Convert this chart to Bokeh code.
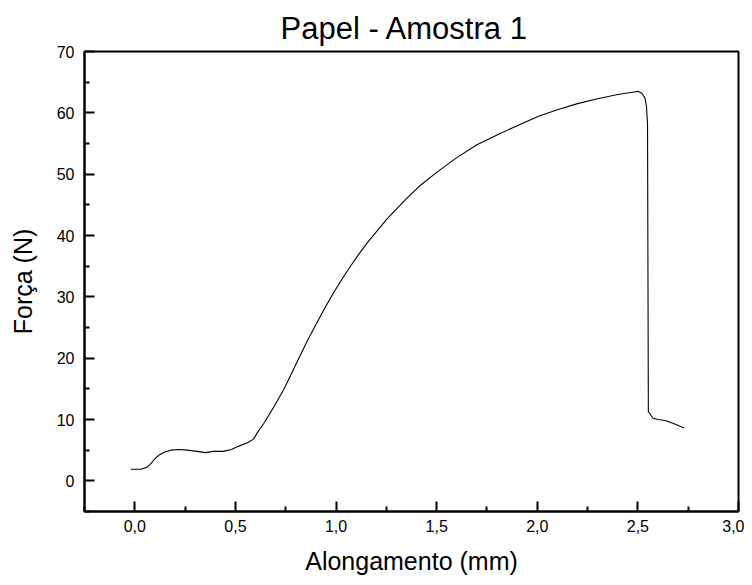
from bokeh.plotting import figure
from bokeh.models import FixedTicker, CustomJSTickFormatter, Range1d
from bokeh.embed import file_html
from bokeh.resources import INLINE

# Data (Alongamento in mm, Força in N)
alongamento = [-0.02, 0.03, 0.06, 0.08, 0.10, 0.12, 0.15, 0.18, 0.22, 0.26, 0.31,
               0.35, 0.39, 0.44, 0.48, 0.52, 0.56, 0.59, 0.61, 0.64, 0.69, 0.74,
               0.78, 0.82, 0.86, 0.90, 0.95, 0.99, 1.03, 1.07, 1.11, 1.15, 1.25,
               1.35, 1.42, 1.50, 1.60, 1.70, 1.80, 1.90, 2.01, 2.10, 2.20, 2.30,
               2.40, 2.48, 2.50, 2.52, 2.535, 2.543, 2.548, 2.552, 2.575, 2.60,
               2.64, 2.68, 2.73]
forca = [1.9, 1.9, 2.2, 2.8, 3.6, 4.2, 4.7, 5.0, 5.1, 5.0, 4.8,
         4.6, 4.8, 4.8, 5.1, 5.7, 6.2, 6.8, 7.9, 9.3, 12.0, 14.9,
         17.6, 20.3, 23.0, 25.5, 28.5, 30.8, 32.9, 34.9, 36.8, 38.6, 42.6,
         46.0, 48.2, 50.3, 52.7, 54.8, 56.4, 57.9, 59.5, 60.5, 61.5, 62.3,
         63.0, 63.4, 63.5, 63.2, 62.4, 61.0, 58.0, 11.3, 10.2, 10.0,
         9.8, 9.3, 8.6]

x_ticks = [0.0, 0.5, 1.0, 1.5, 2.0, 2.5, 3.0]
x_minor = [-0.25, 0.25, 0.75, 1.25, 1.75, 2.25, 2.75]
y_ticks = [0, 10, 20, 30, 40, 50, 60, 70]
y_minor = [-5, 5, 15, 25, 35, 45, 55, 65]

FONT = "Liberation Sans"

p = figure(width=744, height=577, output_backend="svg", toolbar_location=None,
           x_range=Range1d(-0.25, 3.0), y_range=Range1d(-5, 70),
           min_border_left=84, min_border_right=6, min_border_top=51,
           min_border_bottom=64, title="Papel - Amostra 1")

p.line(alongamento, forca, line_color="black", line_width=1.1)

p.title.align = "left"
p.title.offset = 196
p.title.text_font = FONT
p.title.text_font_size = "31px"
p.title.text_font_style = "normal"
p.title.text_color = "black"
p.title.standoff = 12

p.grid.visible = False
p.outline_line_color = "black"
p.outline_line_width = 2
p.background_fill_color = "white"
p.border_fill_color = "white"

p.xaxis.ticker = FixedTicker(ticks=x_ticks, minor_ticks=x_minor)
p.yaxis.ticker = FixedTicker(ticks=y_ticks, minor_ticks=y_minor)
p.xaxis.formatter = CustomJSTickFormatter(code="return tick.toFixed(1).replace('.', ',');")
p.yaxis.formatter = CustomJSTickFormatter(code="return tick.toFixed(0);")

p.xaxis.axis_label = "Alongamento (mm)"
p.yaxis.axis_label = "Força (N)"

for ax in (p.xaxis[0], p.yaxis[0]):
    ax.axis_line_width = 2
    ax.axis_line_color = "black"
    ax.major_tick_line_width = 2
    ax.minor_tick_line_width = 2
    ax.major_tick_line_color = "black"
    ax.minor_tick_line_color = "black"
    ax.major_tick_in = 10
    ax.major_tick_out = 0
    ax.minor_tick_in = 5
    ax.minor_tick_out = 0
    ax.major_label_text_font = FONT
    ax.major_label_text_font_size = "16px"
    ax.major_label_text_color = "black"
    ax.axis_label_text_font = FONT
    ax.axis_label_text_font_size = "25px"
    ax.axis_label_text_font_style = "normal"
    ax.axis_label_text_color = "black"

p.xaxis.major_label_standoff = 8
p.yaxis.major_label_standoff = 10
p.xaxis.axis_label_standoff = 12
p.yaxis.axis_label_standoff = 17

open("out.html", "w").write(file_html(p, INLINE))
